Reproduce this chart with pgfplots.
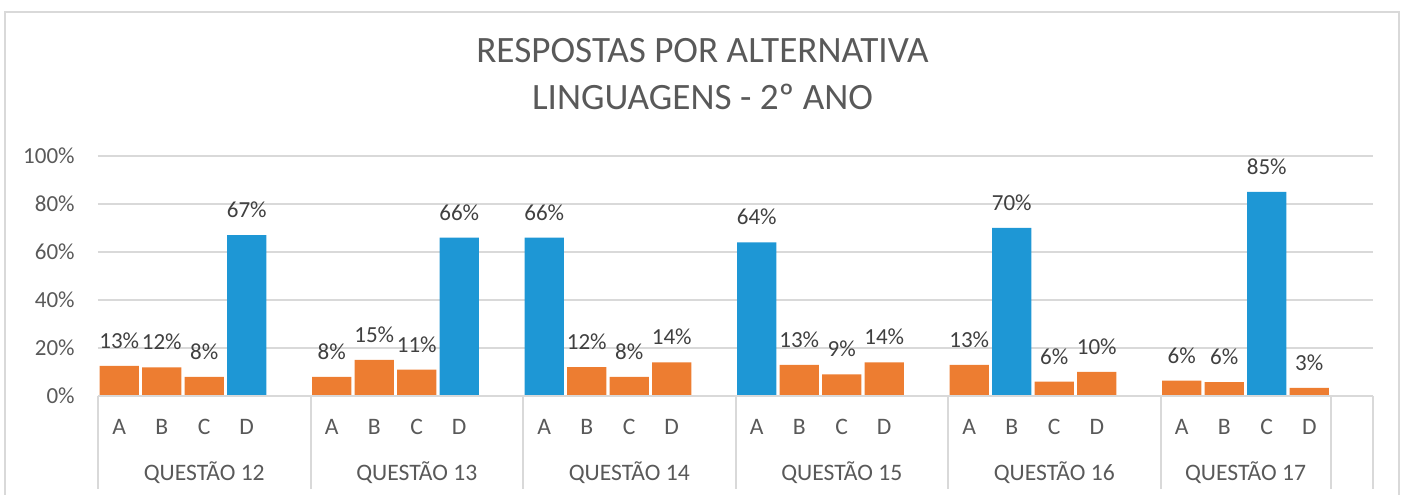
\documentclass[border=0pt]{standalone}
\usepackage{pgfplots}
\pgfplotsset{compat=1.18}
\usepackage{fontspec}
\setmainfont{Carlito}
\definecolor{cOrange}{HTML}{ED7D31}
\definecolor{cBlue}{HTML}{1E97D5}
\definecolor{cGrid}{HTML}{D9D9D9}
\definecolor{cTxt}{HTML}{595959}
\definecolor{cLbl}{HTML}{404040}
\begin{document}
\begin{tikzpicture}
\useasboundingbox (0,0) rectangle (702.5bp,247.5bp);
\draw[cGrid, line width=1bp] (2.5bp,-5bp) -- (2.5bp,241.5bp) -- (699.5bp,241.5bp) -- (699.5bp,-5bp);
\node[anchor=base, text=cTxt, font=\fontsize{18.6bp}{22bp}\selectfont] at (351.25bp,216bp) {RESPOSTAS POR ALTERNATIVA};
\node[anchor=base, text=cTxt, font=\fontsize{18.6bp}{22bp}\selectfont] at (351.25bp,192.5bp) {LINGUAGENS - 2º ANO};
\begin{axis}[
  at={(49bp,49.5bp)}, anchor=south west,
  scale only axis, width=637.5bp, height=120bp,
  xmin=-0.5, xmax=29.5, ymin=0, ymax=100,
  axis line style={draw=none},
  ymajorgrids, grid style={cGrid, line width=1bp},
  major tick length=0pt,
  ytick={0,20,40,60,80,100},
  yticklabel={\pgfmathprintnumber{\tick}\%},
  yticklabel style={anchor=east, inner sep=0pt, xshift=-11.5bp, text=cTxt, font=\fontsize{11.5bp}{13bp}\selectfont},
  /pgf/number format/assume math mode=true,
  xtick={0,1,2,3,5,6,7,8,10,11,12,13,15,16,17,18,20,21,22,23,25,26,27,28},
  xticklabels={A,B,C,D,A,B,C,D,A,B,C,D,A,B,C,D,A,B,C,D,A,B,C,D},
  xticklabel style={anchor=base, inner sep=0pt, yshift=-19bp, text=cTxt, font=\fontsize{11.8bp}{13bp}\selectfont},
  extra x ticks={2,7,12,17,22,26.5},
  extra x tick labels={QUESTÃO 12,QUESTÃO 13,QUESTÃO 14,QUESTÃO 15,QUESTÃO 16,QUESTÃO 17},
  extra x tick style={grid=none, tick label style={yshift=-23bp, font=\fontsize{12.1bp}{14bp}\selectfont}},
  ybar, bar width=0.92, bar shift=0pt,
  nodes near coords={\pgfmathprintnumber[fixed,precision=0]{\pgfplotspointmeta}\%},
  nodes near coords style={anchor=south, inner sep=0pt, yshift=8.5bp, text=cLbl, font=\fontsize{11.5bp}{13bp}\selectfont},
  clip=false,
]
\addplot[fill=cOrange, draw=none] coordinates {
 (0,12.6) (1,11.9) (2,8)
 (5,8) (6,15) (7,11)
 (11,12) (12,8) (13,14)
 (16,13) (17,9) (18,14)
 (20,13) (22,6) (23,10)
 (25,6.4) (26,5.8) (28,3.4)
};
\addplot[fill=cBlue, draw=none] coordinates {
 (3,67) (8,66) (10,66) (15,64) (21,70) (27,85)
};
\draw[cGrid, line width=1bp] (axis cs:-0.5,0) -- (axis cs:29.5,0);
\pgfplotsinvokeforeach{-0.5,4.5,9.5,14.5,19.5,24.5,28.5,29.5}{
  \draw[cGrid, line width=1bp] (axis cs:#1,0) -- ([yshift=-46.5bp]axis cs:#1,0);
}
\end{axis}
\end{tikzpicture}
\end{document}
